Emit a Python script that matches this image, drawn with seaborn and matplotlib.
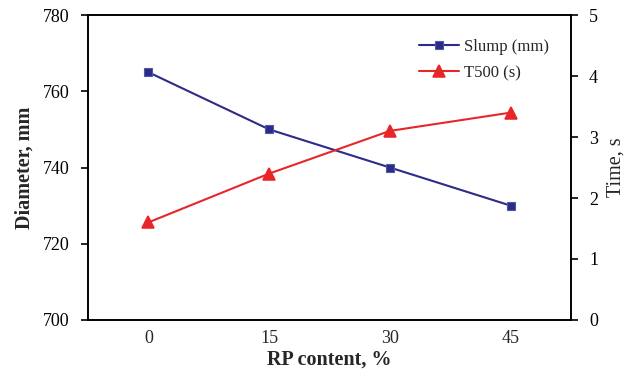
import pandas as pd
import seaborn as sns
import matplotlib.pyplot as plt

# Data
rp_content = ['0', '15', '30', '45']
slump_mm = [765, 750, 740, 730]
t500_s = [1.6, 2.4, 3.1, 3.4]

df = pd.DataFrame({'RP': rp_content, 'Slump': slump_mm, 'T500': t500_s})

sns.set_style('white')
plt.rcParams['font.family'] = ['Liberation Serif', 'DejaVu Serif']

fig = plt.figure(figsize=(6.39, 3.76), dpi=100)
ax = fig.add_axes([0.1377, 0.149, 0.7559, 0.811])
ax2 = ax.twinx()

sns.pointplot(data=df, x='RP', y='Slump', order=rp_content, ax=ax,
              color='#2e2a87', markers='s', markersize=6, linewidth=1.5,
              markeredgecolor='#4a5aa8', markeredgewidth=0.8,
              label='Slump (mm)')
sns.pointplot(data=df, x='RP', y='T500', order=rp_content, ax=ax2,
              color='#e8262a', markers='^', markersize=8, linewidth=1.5,
              label='T500 (s)')
if ax.get_legend() is not None:
    ax.get_legend().remove()

ax.set_ylim(700, 780)
ax.set_yticks([700, 720, 740, 760, 780])
ax2.set_ylim(0, 5)
ax2.set_yticks([0, 1, 2, 3, 4, 5])
ax.set_xlim(-0.5, 3.5)

ax.set_xlabel('RP content, %', fontsize=14.5, fontweight='bold', labelpad=2)
ax.set_ylabel('Diameter, mm', fontsize=14.5, fontweight='bold', labelpad=6)
ax2.set_ylabel('Time, s', fontsize=14.5, labelpad=6)

for a in (ax, ax2):
    for s in a.spines.values():
        s.set_visible(True)
        s.set_color('black')
        s.set_linewidth(1.2)
    a.tick_params(axis='y', direction='out', length=5, width=1.2,
                  labelsize=13, colors='black', pad=8)
    a.tick_params(axis='x', length=0, labelsize=13, pad=7)
ax.tick_params(axis='y', left=True, right=False)
ax2.tick_params(axis='y', right=True, left=False)

h1, l1 = ax.get_legend_handles_labels()
h2, l2 = ax2.get_legend_handles_labels()
ax2.legend(h1 + h2, l1 + l2, loc='upper right', bbox_to_anchor=(0.985, 0.97),
           frameon=False, fontsize=12, handlelength=2.4, handletextpad=0.3,
           labelspacing=0.6)

fig.savefig('out.png', dpi=100)
